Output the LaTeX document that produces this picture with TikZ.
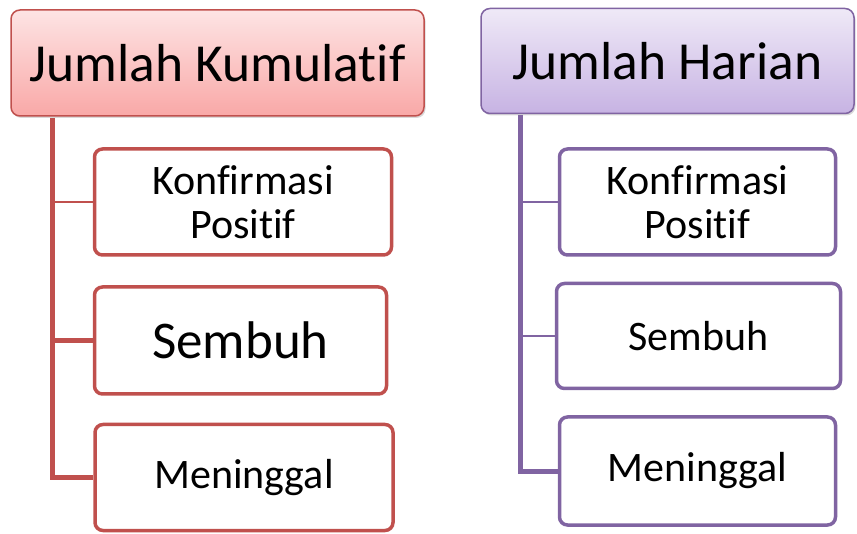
\documentclass[tikz,border=0pt]{standalone}
\usepackage{fontspec}
\setmainfont{Carlito}[Ligatures=NoCommon]
\usetikzlibrary{shadows}
\definecolor{kumline}{HTML}{C0504D}
\definecolor{kumtop}{HTML}{FDE4E4}
\definecolor{kumbot}{HTML}{F9A8A7}
\definecolor{harline}{HTML}{8064A2}
\definecolor{hartop}{HTML}{EFE9F7}
\definecolor{harbot}{HTML}{C7B3E3}

\begin{document}
\begin{tikzpicture}[x=1pt, y=-1pt]
		\tikzstyle{judul}=[rectangle, rounded corners=9pt, line width=1.5pt, minimum height=106pt, inner sep=0pt, font=\fontsize{53.5}{58}\selectfont, drop shadow={opacity=0.3, shadow xshift=1.5pt, shadow yshift=-2pt}]
		\tikzstyle{kotak}=[rectangle, rounded corners=8pt, line width=3.5pt, fill=white, minimum height=106pt, inner sep=0pt, align=center, font=\fontsize{42}{44}\selectfont]
		\tikzstyle{batang}=[line width=5pt]
		\tikzstyle{cabang}=[line width=1.2pt]
		\useasboundingbox (0,0) rectangle (857,534);

		% kumulatif
		\draw (217.5,63) node[judul, draw=kumline, top color=kumtop, bottom color=kumbot, minimum width=413pt] (kum) {Jumlah Kumulatif};
		\draw (243,202) node[kotak, draw=kumline, minimum width=297pt] (kpos) {Konfirmasi\\Positif};
		\draw (240.5,340.5) node[kotak, draw=kumline, minimum width=292pt, minimum height=107pt, font=\fontsize{53}{56}\selectfont] (ksem) {Sembuh};
		\draw (244,477.5) node[kotak, draw=kumline, minimum width=298pt] (kmen) {Meninggal};
		\coordinate (kt) at (52,118);

		\draw[batang, draw=kumline] (kt) |- (kmen);
		\draw[cabang, draw=kumline] (kt |- kpos) -- (kpos);
		\draw[batang, draw=kumline] (kt |- ksem) -- (ksem);

		% harian
		\draw (667.5,61) node[judul, draw=harline, top color=hartop, bottom color=harbot, minimum width=373pt, minimum height=105pt] (har) {Jumlah Harian};
		\draw (697.5,202) node[kotak, draw=harline, minimum width=276pt] (hpos) {Konfirmasi\\Positif};
		\draw (698.5,336) node[kotak, draw=harline, minimum width=284pt, minimum height=105pt] (hsem) {Sembuh};
		\draw (697.5,471) node[kotak, draw=harline, minimum width=276pt, minimum height=108pt] (hmen) {Meninggal};
		\coordinate (ht) at (520,115);

		\draw[batang, draw=harline] (ht) |- (hmen);
		\draw[cabang, draw=harline] (ht |- hpos) -- (hpos);
		\draw[cabang, draw=harline] (ht |- hsem) -- (hsem);
	\end{tikzpicture}
\end{document}
